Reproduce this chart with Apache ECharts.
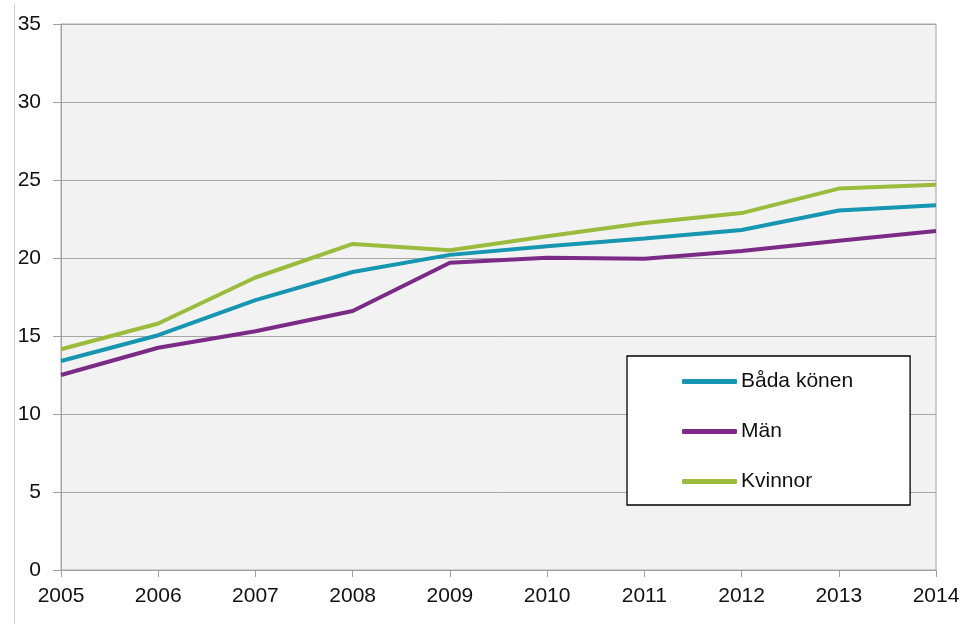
<!DOCTYPE html>
<html>
<head>
<meta charset="utf-8">
<script src="https://cdn.jsdelivr.net/npm/echarts@6/dist/echarts.min.js"></script>
<style>
html,body{margin:0;padding:0;background:#fff;}
#c{width:963px;height:624px;}
</style>
</head>
<body>
<div id="c"></div>
<script>
var years = ['2005','2006','2007','2008','2009','2010','2011','2012','2013','2014'];
var badaKonen = [13.4, 15.05, 17.3, 19.1, 20.2, 20.75, 21.25, 21.8, 23.05, 23.38];
var man = [12.5, 14.25, 15.3, 16.6, 19.7, 20.02, 19.95, 20.45, 21.1, 21.73];
var kvinnor = [14.15, 15.8, 18.75, 20.9, 20.5, 21.4, 22.25, 22.88, 24.45, 24.7];
var yTicks = [0, 5, 10, 15, 20, 25, 30, 35];

var font = '"Liberation Sans", Arial, sans-serif';
var chart = echarts.init(document.getElementById('c'));
chart.setOption({
  animation: false,
  backgroundColor: '#ffffff',
  grid: {
    left: 61, right: 27, top: 24, bottom: 54,
    show: true, backgroundColor: '#f2f2f2',
    borderColor: '#a6a6a6', borderWidth: 1
  },
  graphic: [{
    type: 'line',
    shape: {x1: 14.5, y1: 4, x2: 14.5, y2: 624},
    style: {stroke: '#cfcfcf', lineWidth: 1},
    silent: true
  }],
  legend: {
    orient: 'vertical',
    left: 627, top: 356,
    padding: [15, 57, 13, 55],
    backgroundColor: '#ffffff',
    borderColor: '#000000',
    borderWidth: 1.3,
    borderRadius: 0,
    itemWidth: 55,
    itemHeight: 5,
    itemGap: 29,
    icon: 'roundRect',
    textStyle: {fontFamily: font, fontSize: 21, color: '#111111', lineHeight: 21, padding: [0,0,0,-1]},
    data: ['Båda könen', 'Män', 'Kvinnor']
  },
  xAxis: {
    type: 'category',
    data: years,
    boundaryGap: false,
    axisLine: {lineStyle: {color: '#a0a0a0', width: 1}},
    axisTick: {show: true, length: 7, lineStyle: {color: '#a0a0a0'}},
    axisLabel: {fontFamily: font, fontSize: 21, color: '#111111', margin: 16, interval: 0},
    splitLine: {show: false}
  },
  yAxis: {
    type: 'value',
    min: 0, max: 35, interval: 5,
    axisLine: {show: true, lineStyle: {color: '#a0a0a0', width: 1}},
    axisTick: {show: true, length: 8, lineStyle: {color: '#a0a0a0'}},
    axisLabel: {fontFamily: font, fontSize: 21, color: '#111111', margin: 20,
      formatter: function (v) { return yTicks.indexOf(v) >= 0 ? String(v) : ''; }},
    splitLine: {show: true, lineStyle: {color: '#a6a6a6', width: 1}}
  },
  series: [
    {name: 'Båda könen', type: 'line', data: badaKonen, showSymbol: false, symbol: 'none',
      lineStyle: {width: 4, color: '#1696b0'}, itemStyle: {color: '#1696b0'}},
    {name: 'Män', type: 'line', data: man, showSymbol: false, symbol: 'none',
      lineStyle: {width: 4, color: '#7b2a86'}, itemStyle: {color: '#7b2a86'}},
    {name: 'Kvinnor', type: 'line', data: kvinnor, showSymbol: false, symbol: 'none',
      lineStyle: {width: 4, color: '#9bbb3c'}, itemStyle: {color: '#9bbb3c'}}
  ]
});
</script>
</body>
</html>
